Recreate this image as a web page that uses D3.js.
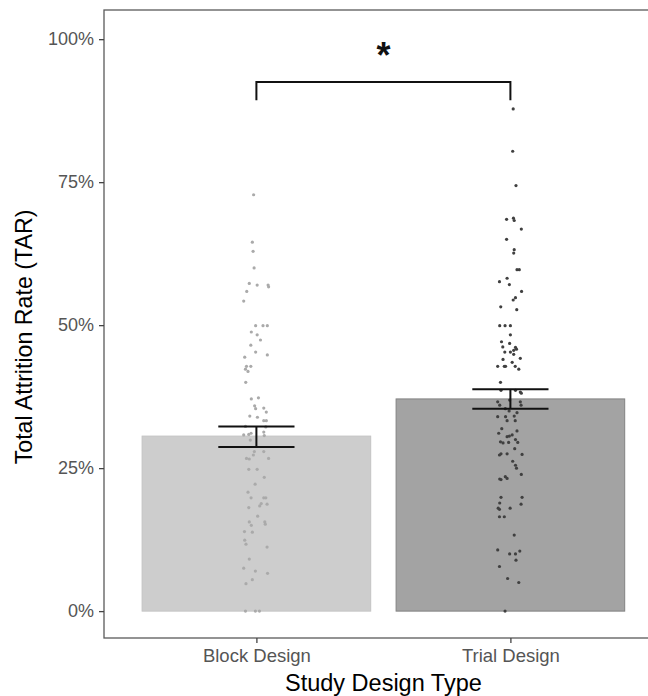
<!DOCTYPE html>
<html><head><meta charset="utf-8">
<script src="https://cdn.jsdelivr.net/npm/d3@7"></script>
<style>body{margin:0;background:#fff}svg{display:block;font-family:"Liberation Sans",Arial,sans-serif}</style>
</head><body><svg id="c" width="648" height="696"></svg>
<script>
const categories = ["Block Design", "Trial Design"];
const meanTAR = [0.306, 0.371];
const seLow = [0.287, 0.354];
const seHigh = [0.323, 0.388];
const yTicks = [0, 0.25, 0.5, 0.75, 1.0];
const yTickLabels = ["0%", "25%", "50%", "75%", "100%"];
const signif = {from: 0, to: 1, y: 0.925, tip: 0.893, label: "*"};
// [TAR value, horizontal jitter in category units]
const blockPoints = [
[0.728,-0.011],[0.645,-0.016],[0.629,-0.013],[0.600,-0.009],[0.573,-0.028],[0.570,0.003],[0.570,0.046],[0.567,0.048],
[0.559,-0.038],[0.542,-0.050],[0.499,-0.003],[0.499,0.026],[0.499,0.043],[0.488,-0.020],[0.483,0.003],[0.474,0.016],
[0.465,-0.022],[0.453,-0.003],[0.448,0.043],[0.444,-0.046],[0.428,-0.039],[0.428,-0.022],[0.423,-0.043],[0.419,-0.033],
[0.400,-0.042],[0.371,-0.020],[0.373,0.008],[0.359,-0.007],[0.354,-0.003],[0.355,0.029],[0.348,0.039],[0.341,-0.026],
[0.339,0.004],[0.333,0.029],[0.333,0.039],[0.323,-0.043],[0.322,0.037],[0.308,-0.050],[0.309,-0.030],[0.311,-0.021],
[0.313,0.029],[0.307,0.031],[0.299,-0.024],[0.279,-0.008],[0.279,0.029],[0.273,-0.012],[0.267,-0.039],[0.267,0.048],
[0.266,-0.028],[0.248,-0.030],[0.248,0.003],[0.234,0.031],[0.222,-0.005],[0.208,-0.033],[0.198,-0.021],[0.198,0.029],
[0.198,0.037],[0.188,0.019],[0.184,0.013],[0.187,0.042],[0.181,-0.030],[0.166,0.005],[0.156,-0.028],[0.150,-0.020],
[0.156,0.033],[0.152,0.035],[0.139,-0.047],[0.138,-0.016],[0.124,-0.046],[0.117,-0.041],[0.112,0.042],[0.091,-0.028],
[0.075,-0.050],[0.070,-0.004],[0.066,0.044],[0.055,-0.016],[0.048,-0.041],[0.000,-0.043],[0.000,-0.004],[0.000,0.012]
];
const trialPoints = [
[0.878,0.011],[0.804,0.009],[0.744,0.022],[0.685,-0.015],[0.687,0.012],[0.683,0.015],[0.668,0.043],[0.650,-0.015],
[0.632,0.015],[0.626,0.013],[0.597,0.026],[0.597,0.035],[0.576,-0.043],[0.582,-0.013],[0.571,-0.004],[0.559,0.044],
[0.544,0.011],[0.548,0.020],[0.532,-0.038],[0.527,0.025],[0.499,-0.042],[0.499,-0.021],[0.499,0.000],[0.483,0.000],
[0.471,-0.035],[0.468,-0.003],[0.462,-0.030],[0.461,0.020],[0.458,0.024],[0.456,0.013],[0.453,-0.022],[0.453,0.000],
[0.449,0.013],[0.442,0.039],[0.440,-0.029],[0.435,0.007],[0.428,-0.050],[0.428,-0.024],[0.428,-0.019],[0.428,0.019],
[0.423,0.033],[0.400,-0.039],[0.386,-0.037],[0.386,0.020],[0.383,0.039],[0.381,0.043],[0.366,-0.050],[0.360,-0.042],
[0.369,-0.003],[0.366,0.039],[0.360,0.042],[0.354,-0.020],[0.350,-0.005],[0.347,0.026],[0.340,-0.050],[0.340,-0.019],
[0.341,0.015],[0.333,-0.013],[0.333,0.019],[0.319,-0.034],[0.315,0.026],[0.311,-0.046],[0.305,-0.013],[0.306,-0.004],
[0.308,0.007],[0.300,0.020],[0.295,0.029],[0.296,-0.039],[0.294,-0.029],[0.295,-0.007],[0.284,0.017],[0.273,-0.043],
[0.275,-0.037],[0.275,-0.013],[0.274,0.046],[0.262,0.009],[0.255,0.020],[0.250,0.024],[0.239,0.043],[0.235,-0.020],
[0.232,-0.013],[0.231,-0.042],[0.230,-0.037],[0.199,-0.037],[0.199,0.046],[0.189,-0.042],[0.187,0.042],[0.180,-0.048],
[0.178,-0.043],[0.180,-0.001],[0.165,-0.043],[0.165,-0.024],[0.133,0.015],[0.107,-0.050],[0.105,0.037],[0.100,-0.003],
[0.100,0.020],[0.089,0.022],[0.078,-0.043],[0.057,-0.011],[0.050,0.033],[0.000,-0.021]
];
const barFill = ["#cdcdcd", "#a3a3a3"];
const barStroke = ["#c4c4c4", "#828282"];
const pointColor = ["#aaaaaa", "#404040"];

const svg = d3.select("#c");
const panel = {left: 104, top: 10, bottom: 638};
// discrete axis: categories at 1,2 with 0.6 expansion
const x = d3.scaleLinear().domain([0.4, 2.6]).range([panel.left, panel.left + 2.2 * 254]);
const y = d3.scaleLinear().domain([-0.047, 1.051]).range([panel.bottom, panel.top]);

const bars = categories.map((c, i) => ({c, i, m: meanTAR[i], lo: seLow[i], hi: seHigh[i]}));

// bars
svg.selectAll("rect.bar").data(bars).join("rect")
  .attr("x", d => x(d.i + 1 - 0.45)).attr("width", d => x(d.i + 1 + 0.45) - x(d.i + 1 - 0.45))
  .attr("y", d => y(d.m)).attr("height", d => y(0) - y(d.m))
  .attr("fill", d => barFill[d.i]).attr("stroke", d => barStroke[d.i]).attr("stroke-width", 1);

// points
[blockPoints, trialPoints].forEach((pts, i) => {
  svg.append("g").selectAll("circle").data(pts).join("circle")
    .attr("cx", d => x(i + 1 + d[1])).attr("cy", d => y(d[0])).attr("r", 1.6)
    .attr("fill", pointColor[i]);
});

// error bars
const eb = svg.append("g").attr("stroke", "#111").attr("stroke-width", 2).attr("fill", "none");
bars.forEach(d => {
  eb.append("line").attr("x1", x(d.i + 1)).attr("x2", x(d.i + 1)).attr("y1", y(d.lo)).attr("y2", y(d.hi));
  eb.append("line").attr("x1", x(d.i + 1 - 0.15)).attr("x2", x(d.i + 1 + 0.15)).attr("y1", y(d.lo)).attr("y2", y(d.lo));
  eb.append("line").attr("x1", x(d.i + 1 - 0.15)).attr("x2", x(d.i + 1 + 0.15)).attr("y1", y(d.hi)).attr("y2", y(d.hi));
});

// significance bracket
svg.append("path")
  .attr("d", `M${x(signif.from + 1)},${y(signif.tip)}V${y(signif.y)}H${x(signif.to + 1)}V${y(signif.tip)}`)
  .attr("fill", "none").attr("stroke", "#111").attr("stroke-width", 2);
svg.append("text").attr("x", (x(signif.from + 1) + x(signif.to + 1)) / 2).attr("y", y(signif.y) - 14)
  .attr("text-anchor", "middle").attr("font-size", 36).attr("font-weight", "bold").attr("fill", "#111")
  .text(signif.label);

// panel border
svg.append("rect").attr("x", panel.left).attr("y", panel.top)
  .attr("width", x(2.6) - panel.left).attr("height", panel.bottom - panel.top)
  .attr("fill", "none").attr("stroke", "#5a5a5a").attr("stroke-width", 1.3);

// axes
const yAxis = d3.axisLeft(y).tickValues(yTicks).tickFormat((d, i) => yTickLabels[i]).tickSize(5).tickPadding(5);
const gy = svg.append("g").attr("transform", `translate(${panel.left},0)`).call(yAxis);
gy.select(".domain").remove();
gy.selectAll(".tick line").attr("stroke", "#444").attr("stroke-width", 1.3);
gy.selectAll(".tick text").attr("font-size", 18).attr("fill", "#555").attr("font-family", "Liberation Sans, Arial, sans-serif");

const xAxis = d3.axisBottom(x).tickValues([1, 2]).tickFormat(d => categories[d - 1]).tickSize(5).tickPadding(6);
const gx = svg.append("g").attr("transform", `translate(0,${panel.bottom})`).call(xAxis);
gx.select(".domain").remove();
gx.selectAll(".tick line").attr("stroke", "#444").attr("stroke-width", 1.3);
gx.selectAll(".tick text").attr("font-size", 18.5).attr("fill", "#555").attr("font-family", "Liberation Sans, Arial, sans-serif");

svg.append("text").attr("x", (x(1) + x(2)) / 2).attr("y", 691).attr("text-anchor", "middle")
  .attr("font-size", 23.5).attr("fill", "#000").text("Study Design Type");
svg.append("text").attr("transform", `translate(32,337) rotate(-90)`).attr("text-anchor", "middle")
  .attr("font-size", 23.2).attr("fill", "#000").text("Total Attrition Rate (TAR)");
</script></body></html>
